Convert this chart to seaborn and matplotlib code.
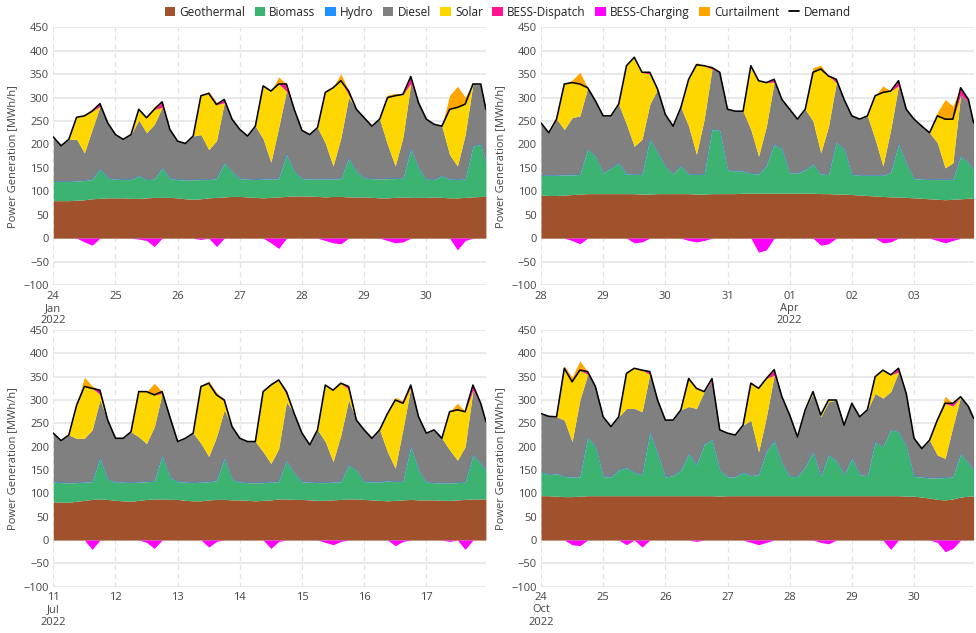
import numpy as np
import pandas as pd
import matplotlib
matplotlib.use("Agg")
import matplotlib.pyplot as plt
from matplotlib.patches import Patch
from matplotlib.lines import Line2D
import seaborn as sns

# Sample times within each week (hours after the first midnight)
HOURS = list(range(0, 168, 3)) + [167]

SOURCES = ["Geothermal", "Biomass", "Hydro", "Diesel", "Solar",
           "BESS-Dispatch", "BESS-Charging", "Curtailment"]
COLORS = {"Geothermal": "#A0522D", "Biomass": "#3CB371", "Hydro": "#1E90FF",
          "Diesel": "#808080", "Solar": "#FFD700", "BESS-Dispatch": "#FF1493",
          "BESS-Charging": "#FF00FF", "Curtailment": "#FFA500"}

# ---- Week of 24 Jan 2022 ----
jan_start = "2022-01-24"
jan_ticks = ["24\nJan\n2022", "25", "26", "27", "28", "29", "30"]
jan_geo = [80, 80, 80, 81, 82, 84, 85, 86,
           86, 86, 85, 85, 86, 87, 87, 87,
           86, 84, 83, 84, 86, 87, 88, 89,
           89, 88, 87, 86, 87, 88, 89, 90,
           90, 90, 89, 88, 89, 89, 88, 88,
           88, 87, 86, 86, 87, 88, 87, 87,
           87, 88, 87, 86, 86, 87, 88, 89, 89]
jan_bio = [41, 41, 41, 41, 41, 41, 63, 42,
           40, 39, 40, 48, 39, 39, 63, 40,
           39, 40, 41, 41, 39, 40, 72, 53,
           38, 38, 38, 40, 39, 39, 89, 53,
           37, 36, 37, 38, 37, 38, 82, 55,
           40, 40, 40, 41, 40, 40, 103, 63,
           39, 37, 46, 40, 39, 39, 108, 111, 71]
jan_diesel = [95, 76, 90, 89, 59, 107, 133, 118,
              95, 86, 96, 119, 100, 117, 129, 105,
              82, 78, 94, 96, 64, 81, 129, 112,
              105, 92, 114, 86, 36, 109, 136, 132,
              103, 95, 110, 77, 28, 87, 130, 132,
              129, 112, 128, 73, 27, 88, 140, 139,
              128, 118, 106, 52, 29, 95, 133, 129, 115]
jan_solar = [0, 0, 0, 47, 79, 39, 0, 0,
             0, 0, 0, 23, 32, 32, 0, 0,
             0, 0, 0, 83, 120, 77, 0, 0,
             0, 0, 0, 113, 152, 93, 0, 0,
             0, 0, 0, 108, 167, 122, 6, 0,
             0, 0, 0, 100, 150, 91, 0, 0,
             0, 0, 0, 97, 125, 65, 0, 0, 0]
jan_dispatch = [0, 0, 0, 0, 0, 0, 6, 0,
                0, 0, 0, 0, 0, 0, 12, 0,
                0, 0, 0, 0, 0, 0, 7, 0,
                0, 0, 0, 0, 0, 0, 15, 0,
                0, 0, 0, 0, 0, 0, 8, 0,
                0, 0, 0, 0, 0, 0, 15, 0,
                0, 0, 0, 0, 0, 0, 0, 0, 0]
jan_charging = [0, 0, 0, 0, -8, -15, 0, 0,
                0, 0, 0, -2, -5, -18, 0, 0,
                0, 0, 0, -3, 0, -18, 0, 0,
                0, 0, 0, 0, -10, -22, 0, 0,
                0, 0, 0, -5, -10, -12, 0, 0,
                0, 0, 0, -5, -10, -8, 0, 0,
                0, 0, 0, 0, -25, -5, 0, 0, 0]
jan_curtail = [0, 0, 0, 0, 0, 5, 0, 0,
               0, 0, 0, 0, 0, 6, 0, 0,
               0, 0, 0, 0, 4, 5, 0, 0,
               0, 0, 0, 0, 0, 15, 0, 0,
               0, 0, 0, 0, 0, 15, 0, 0,
               0, 0, 0, 5, 5, 0, 0, 0,
               0, 0, 0, 30, 45, 15, 0, 0, 0]

# ---- Week of 28 Mar 2022 ----
apr_start = "2022-03-28"
apr_ticks = ["28", "29", "30", "31", "01\nApr\n2022", "02", "03"]
apr_geo = [92, 91, 91, 92, 93, 94, 95, 95,
           95, 95, 95, 95, 95, 94, 94, 95,
           95, 95, 95, 95, 94, 94, 95, 95,
           95, 95, 96, 96, 96, 96, 96, 96,
           96, 96, 96, 96, 95, 95, 94, 94,
           93, 92, 91, 90, 89, 88, 88, 87,
           86, 85, 84, 83, 82, 83, 84, 85, 86]
apr_bio = [42, 43, 43, 43, 42, 42, 95, 80,
           44, 55, 65, 42, 41, 42, 117, 87,
           59, 42, 60, 41, 42, 42, 137, 135,
           51, 48, 47, 42, 41, 59, 104, 94,
           43, 43, 50, 62, 42, 41, 111, 96,
           43, 42, 43, 44, 45, 52, 112, 73,
           41, 41, 41, 42, 43, 42, 91, 76, 59]
apr_diesel = [112, 91, 120, 97, 122, 125, 131, 115,
              122, 111, 126, 106, 60, 75, 75, 136,
              110, 102, 124, 103, 43, 118, 129, 124,
              129, 128, 128, 94, 38, 84, 133, 106,
              136, 115, 129, 92, 45, 103, 127, 106,
              125, 120, 127, 77, 20, 92, 125, 115,
              127, 113, 100, 79, 25, 36, 131, 130, 101]
apr_solar = [0, 0, 0, 97, 75, 68, 0, 0,
             0, 0, 0, 125, 190, 143, 64, 0,
             0, 0, 0, 100, 191, 114, 0, 0,
             0, 0, 0, 136, 161, 93, 0, 0,
             0, 0, 0, 104, 179, 107, 0, 0,
             0, 0, 0, 93, 157, 82, 0, 0,
             0, 0, 0, 57, 104, 93, 0, 0, 0]
apr_dispatch = [0, 0, 0, 0, 0, 0, 0, 3,
                0, 0, 0, 0, 0, 0, 4, 0,
                0, 0, 0, 0, 0, 0, 3, 0,
                0, 0, 0, 0, 0, 0, 6, 0,
                0, 0, 0, 0, 0, 0, 7, 0,
                0, 0, 0, 0, 0, 0, 11, 0,
                0, 0, 0, 0, 0, 0, 15, 5, 0]
apr_charging = [0, 0, 0, 0, -5, -12, 0, 0,
                0, 0, 0, 0, -10, -8, 0, 0,
                0, 0, 0, -5, -8, -5, 0, 0,
                0, 0, 0, 0, -30, -25, 0, 0,
                0, 0, 0, 0, -15, -12, 0, 0,
                0, 0, 0, 0, -10, -8, 0, 0,
                0, 0, 0, -5, -10, -5, 0, 0, 0]
apr_curtail = [0, 0, 0, 0, 5, 25, 0, 0,
               0, 0, 0, 0, 0, 0, 0, 0,
               0, 0, 0, 0, 5, 0, 0, 0,
               0, 0, 0, 0, 0, 0, 0, 0,
               0, 0, 0, 10, 8, 0, 0, 0,
               0, 0, 0, 0, 14, 0, 0, 0,
               0, 0, 0, 7, 42, 28, 0, 0, 0]

# ---- Week of 11 Jul 2022 ----
jul_start = "2022-07-11"
jul_ticks = ["11\nJul\n2022", "12", "13", "14", "15", "16", "17"]
jul_geo = [82, 81, 81, 83, 85, 87, 88, 87,
           85, 84, 83, 85, 87, 88, 88, 87,
           87, 85, 84, 84, 86, 87, 87, 86,
           86, 85, 84, 85, 86, 88, 88, 87,
           87, 86, 85, 85, 86, 87, 88, 88,
           87, 86, 85, 84, 85, 86, 87, 86,
           86, 86, 85, 85, 86, 87, 88, 88, 88]
jul_bio = [42, 42, 41, 40, 39, 38, 87, 43,
           39, 40, 40, 39, 38, 38, 92, 48,
           38, 39, 39, 40, 39, 40, 88, 44,
           38, 38, 38, 38, 38, 37, 82, 56,
           38, 38, 38, 38, 38, 38, 72, 62,
           38, 39, 39, 43, 40, 40, 113, 64,
           38, 37, 37, 37, 37, 37, 94, 76, 62]
jul_diesel = [105, 90, 103, 95, 94, 111, 125, 127,
              94, 94, 109, 97, 82, 117, 134, 129,
              86, 94, 106, 83, 54, 94, 104, 113,
              94, 88, 89, 66, 40, 71, 126, 128,
              104, 80, 113, 88, 44, 100, 140, 107,
              111, 93, 112, 62, 29, 113, 127, 114,
              105, 113, 96, 71, 48, 76, 139, 129, 104]
jul_solar = [0, 0, 0, 71, 111, 89, 12, 0,
             0, 0, 0, 97, 111, 68, 0, 0,
             0, 0, 0, 122, 157, 90, 18, 0,
             0, 0, 0, 129, 168, 147, 16, 0,
             0, 0, 0, 121, 153, 111, 23, 0,
             0, 0, 0, 82, 146, 54, 0, 0,
             0, 0, 0, 82, 108, 75, 0, 0, 0]
jul_dispatch = [0, 0, 0, 0, 0, 0, 9, 0,
                0, 0, 0, 0, 0, 0, 4, 0,
                0, 0, 0, 0, 0, 0, 3, 0,
                0, 0, 0, 0, 0, 0, 6, 0,
                0, 0, 0, 0, 0, 0, 6, 0,
                0, 0, 0, 0, 0, 0, 5, 0,
                0, 0, 0, 0, 0, 0, 11, 0, 0]
jul_charging = [0, 0, 0, 0, 0, -20, 0, 0,
                0, 0, 0, 0, -5, -18, 0, 0,
                0, 0, 0, 0, -15, -3, 0, 0,
                0, 0, 0, 0, -18, -3, 0, 0,
                0, 0, 0, -5, -10, -3, 0, 0,
                0, 0, 0, 0, -12, -3, 0, 0,
                0, 0, 0, -3, 0, -20, 0, 0, 0]
jul_curtail = [0, 0, 0, 0, 20, 5, 0, 0,
               0, 0, 0, 0, 0, 25, 0, 0,
               0, 0, 0, 0, 5, 5, 0, 0,
               0, 0, 0, 0, 5, 0, 0, 0,
               0, 0, 0, 0, 0, 3, 0, 0,
               0, 0, 0, 0, 6, 5, 0, 0,
               0, 0, 0, 0, 14, 0, 0, 0, 0]

# ---- Week of 24 Oct 2022 ----
oct_start = "2022-10-24"
oct_ticks = ["24\nOct\n2022", "25", "26", "27", "28", "29", "30"]
oct_geo = [95, 95, 94, 93, 93, 94, 95, 95,
           95, 95, 95, 95, 95, 95, 95, 95,
           95, 95, 95, 95, 95, 95, 95, 94,
           95, 95, 95, 95, 95, 95, 95, 95,
           95, 95, 95, 95, 95, 95, 95, 95,
           95, 95, 95, 95, 95, 95, 95, 94,
           94, 92, 90, 87, 86, 88, 92, 94, 94]
oct_bio = [51, 45, 48, 43, 42, 41, 125, 105,
           41, 40, 55, 60, 50, 45, 135, 90,
           40, 43, 55, 90, 66, 110, 120, 56,
           40, 40, 50, 43, 45, 95, 117, 70,
           41, 41, 62, 94, 41, 87, 75, 45,
           80, 45, 43, 115, 105, 141, 137, 106,
           42, 43, 43, 46, 48, 47, 93, 71, 56]
oct_diesel = [125, 125, 122, 121, 76, 165, 135, 129,
              128, 108, 114, 127, 137, 135, 125, 115,
              122, 119, 129, 101, 121, 113, 126, 86,
              94, 90, 101, 119, 49, 74, 141, 142,
              132, 85, 122, 125, 128, 114, 130, 106,
              118, 124, 141, 104, 104, 82, 128, 114,
              82, 61, 81, 49, 41, 108, 122, 121, 111]
oct_solar = [0, 0, 0, 111, 128, 64, 0, 0,
             0, 0, 0, 75, 86, 89, 0, 0,
             0, 0, 0, 60, 43, 0, 0, 0,
             0, 0, 0, 79, 136, 82, 0, 0,
             0, 0, 0, 4, 4, 4, 0, 0,
             0, 0, 0, 36, 60, 36, 0, 0,
             0, 0, 0, 75, 118, 44, 0, 0, 0]
oct_dispatch = [0, 0, 0, 0, 0, 0, 6, 0,
                0, 0, 0, 0, 0, 0, 6, 0,
                0, 0, 0, 0, 0, 0, 5, 0,
                0, 0, 0, 0, 0, 0, 12, 0,
                0, 0, 0, 0, 0, 0, 0, 0,
                0, 0, 0, 0, 0, 0, 8, 0,
                0, 0, 0, 0, 0, 6, 0, 0, 0]
oct_charging = [0, 0, 0, 0, -10, -12, 0, 0,
                0, 0, 0, -10, 0, -15, 0, 0,
                0, 0, 0, 0, -3, 0, 0, 0,
                0, 0, 0, -5, -10, -5, 0, 0,
                0, 0, 0, 0, -5, -8, 0, 0,
                0, 0, 0, 0, 0, -20, 0, 0,
                0, 0, 0, -5, -25, -18, 0, 0, 0]
oct_curtail = [0, 0, 0, 5, 10, 20, 0, 0,
               0, 0, 0, 0, 0, 0, 0, 0,
               0, 0, 0, 3, 0, 0, 0, 0,
               0, 0, 0, 3, 0, 0, 0, 0,
               0, 0, 0, 0, 0, 0, 0, 0,
               0, 0, 0, 0, 0, 0, 0, 0,
               0, 0, 0, 0, 15, 0, 0, 0, 0]

Y_TICKS = list(range(-100, 451, 50))

sns.set_theme(style="white")
plt.rcParams["font.family"] = ["Open Sans", "DejaVu Sans"]
plt.rcParams["axes.unicode_minus"] = True

TEXT = "#444444"
fig = plt.figure(figsize=(9.76, 6.33), dpi=100)

W = 976.0
H = 633.0
ax_w = 432.6 / W
boxes = [
    (53.3 / W, 1 - 285.0 / H, ax_w, 257.7 / H),
    (541.0 / W, 1 - 285.0 / H, ax_w, 257.7 / H),
    (53.3 / W, 1 - 586.7 / H, ax_w, 256.7 / H),
    (541.0 / W, 1 - 586.7 / H, ax_w, 256.7 / H),
]

weeks = [
    (jan_start, jan_ticks, jan_geo, jan_bio, jan_diesel, jan_solar,
     jan_dispatch, jan_charging, jan_curtail),
    (apr_start, apr_ticks, apr_geo, apr_bio, apr_diesel, apr_solar,
     apr_dispatch, apr_charging, apr_curtail),
    (jul_start, jul_ticks, jul_geo, jul_bio, jul_diesel, jul_solar,
     jul_dispatch, jul_charging, jul_curtail),
    (oct_start, oct_ticks, oct_geo, oct_bio, oct_diesel, oct_solar,
     oct_dispatch, oct_charging, oct_curtail),
]


def draw_week(ax, start, ticks, geo, bio, diesel, solar, dispatch, charging, curtail):
    t0 = pd.Timestamp(start)
    t = t0 + pd.to_timedelta(HOURS, unit="h")
    geo = np.asarray(geo, float)
    hydro = np.zeros_like(geo)
    stack = [("Geothermal", geo), ("Biomass", np.asarray(bio, float)),
             ("Hydro", hydro), ("Diesel", np.asarray(diesel, float)),
             ("Solar", np.asarray(solar, float)),
             ("BESS-Dispatch", np.asarray(dispatch, float))]
    base = np.zeros_like(geo)
    for name, vals in stack:
        top = base + vals
        ax.fill_between(t, base, top, color=COLORS[name], lw=0, zorder=2)
        if name == "Hydro":
            ax.plot(t, top, color=COLORS["Hydro"], lw=0.5, alpha=0.6, zorder=3)
        base = top
    demand = base
    ax.fill_between(t, demand, demand + np.asarray(curtail, float),
                    color=COLORS["Curtailment"], lw=0, zorder=2)
    ax.fill_between(t, 0, np.asarray(charging, float),
                    color=COLORS["BESS-Charging"], lw=0, zorder=2)
    sns.lineplot(x=t, y=demand, ax=ax, color="black", lw=1.15, zorder=4)

    ax.set_xlim(t[0], t[-1])
    ax.set_ylim(-100, 450)
    ax.set_yticks(Y_TICKS)
    day_pos = [t0 + pd.Timedelta(days=k) for k in range(7)]
    ax.set_xticks(day_pos)
    ax.set_xticklabels(ticks, linespacing=1.15)
    ax.set_axisbelow(True)
    ax.grid(axis="y", color="#e3e3e3", lw=1.1, zorder=0)
    for d in day_pos:
        ax.axvline(d, color="#e2e2e2", lw=0.9, ls=(0, (4, 3)), zorder=0)
    for s in ax.spines.values():
        s.set_visible(False)
    ax.tick_params(axis="both", length=0, labelsize=8, colors=TEXT, pad=3)
    ax.tick_params(axis="x", pad=4)
    ax.set_ylabel("Power Generation [MWh/h]", fontsize=8, color=TEXT, labelpad=4)
    ax.set_xlabel("")


for box, week in zip(boxes, weeks):
    ax = fig.add_axes(box)
    draw_week(ax, *week)

handles = [Patch(facecolor=COLORS[s], edgecolor="none") for s in SOURCES]
handles.append(Line2D([0], [0], color="black", lw=1.3))
labels = SOURCES + ["Demand"]
fig.legend(handles, labels, loc="center", bbox_to_anchor=(0.52, 0.981), ncol=9,
           frameon=False, fontsize=8.5, handlelength=0.9, handleheight=0.9,
           handletextpad=0.35, columnspacing=0.8, labelcolor="#222222")

fig.savefig("out.png", dpi=100)
